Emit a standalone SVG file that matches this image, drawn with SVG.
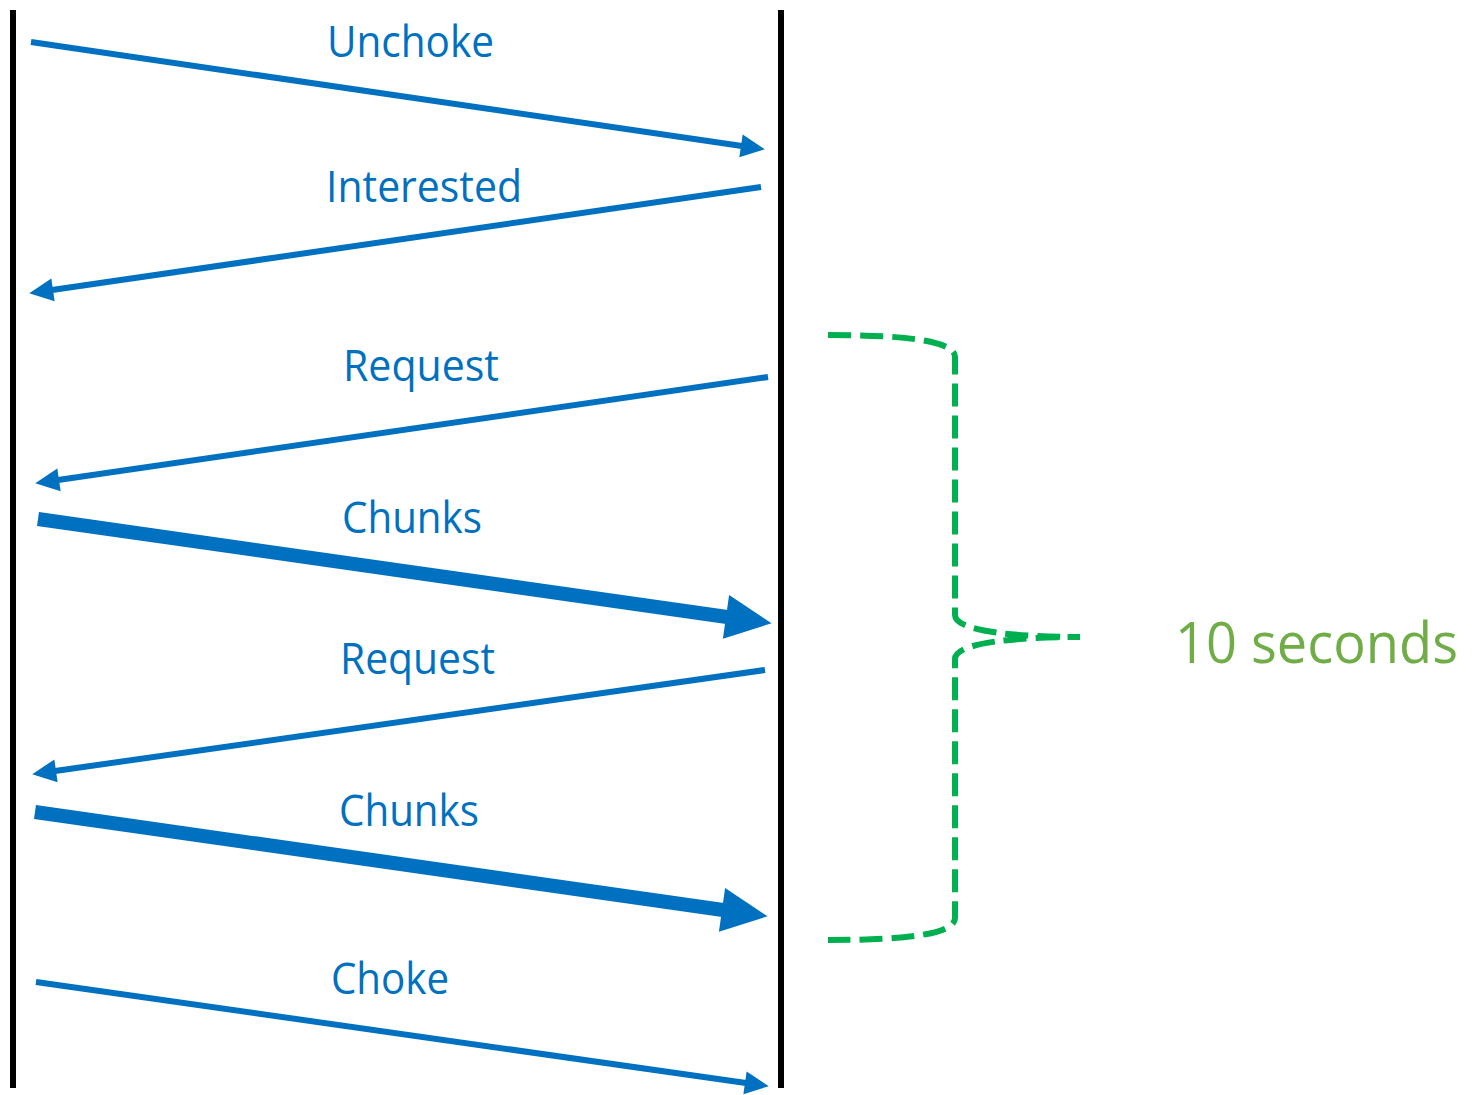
<svg xmlns="http://www.w3.org/2000/svg" width="1473" height="1095" viewBox="0 0 1473 1095">
  <style>
    .life { stroke: #000000; stroke-width: 6; fill: none; }
    .msg { stroke: #0070C0; fill: none; stroke-linecap: butt; }
    .thin { stroke-width: 6; marker-end: url(#headThin); }
    .thick { stroke-width: 14; marker-end: url(#headThick); }
    .lbl { font-family: "Open Sans", "Noto Sans", sans-serif; font-size: 43px; fill: #0070C0; }
    .brace { stroke: #00B050; stroke-width: 6; fill: none; stroke-dasharray: 23 9; }
    .secs { font-family: "Open Sans", "Noto Sans", sans-serif; font-size: 57px; fill: #70AD47; }
  </style>
  <defs>
    <marker id="headThin" markerUnits="userSpaceOnUse" viewBox="0 -12 24 24" markerWidth="24" markerHeight="24" refX="1" refY="0" orient="auto" overflow="visible">
      <path d="M0,-11.5 L24,0 L0,11.5 Z" fill="#0070C0"/>
    </marker>
    <marker id="headThick" markerUnits="userSpaceOnUse" viewBox="0 -23 46 46" markerWidth="46" markerHeight="46" refX="1" refY="0" orient="auto" overflow="visible">
      <path d="M0,-22 L46,0 L0,22 Z" fill="#0070C0"/>
    </marker>
  </defs>

  <g id="lifeline-left"><line class="life" x1="13" y1="10" x2="13" y2="1088"/></g>
  <g id="lifeline-right"><line class="life" x1="781" y1="10" x2="781" y2="1088"/></g>

  <g id="connectors">
    <line class="msg thin" x1="31" y1="42" x2="742" y2="146"/>
    <line class="msg thin" x1="761" y1="187" x2="52" y2="290"/>
    <line class="msg thin" x1="768" y1="377" x2="58" y2="480"/>
    <line class="msg thick" x1="38" y1="519" x2="727" y2="617"/>
    <line class="msg thin" x1="765" y1="670" x2="55" y2="771"/>
    <line class="msg thick" x1="35" y1="812" x2="723" y2="910"/>
    <line class="msg thin" x1="36" y1="982" x2="746" y2="1083"/>
  </g>

  <g id="labels">
    <text class="lbl" x="327" y="57" textLength="167" lengthAdjust="spacingAndGlyphs">Unchoke</text>
    <text class="lbl" x="326" y="202" textLength="196" lengthAdjust="spacingAndGlyphs">Interested</text>
    <text class="lbl" x="343" y="381" textLength="156" lengthAdjust="spacingAndGlyphs">Request</text>
    <text class="lbl" x="342" y="533" textLength="140" lengthAdjust="spacingAndGlyphs">Chunks</text>
    <text class="lbl" x="340" y="674" textLength="155" lengthAdjust="spacingAndGlyphs">Request</text>
    <text class="lbl" x="339" y="826" textLength="140" lengthAdjust="spacingAndGlyphs">Chunks</text>
    <text class="lbl" x="331" y="994" textLength="118" lengthAdjust="spacingAndGlyphs">Choke</text>
  </g>

  <g id="brace">
    <path class="brace" d="M828,335 C900,335 955,340 955,357 L955,615 C955,632 1020,637 1080,637 C1020,637 955,642 955,659 L955,918 C955,935 900,940 828,940"/>
    <text class="secs" x="1175" y="663" textLength="283" lengthAdjust="spacingAndGlyphs">10 seconds</text>
  </g>
</svg>
